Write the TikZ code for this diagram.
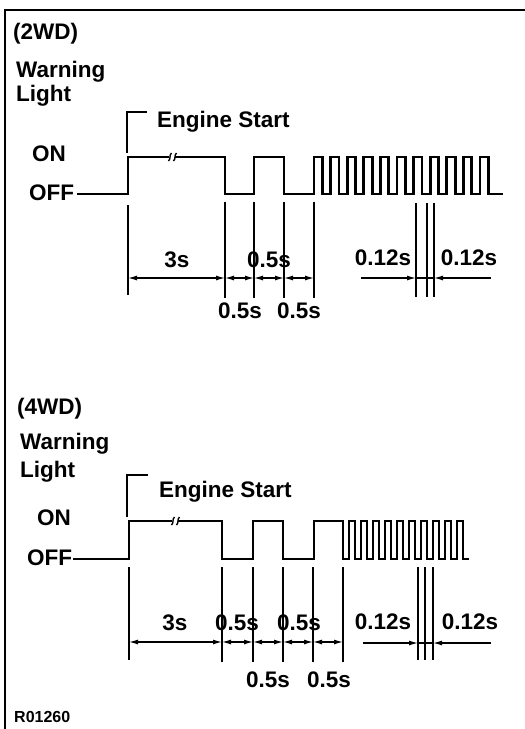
\documentclass[tikz,border=0pt]{standalone}
\usepackage{fontspec}
\setmainfont{Liberation Sans}
\usetikzlibrary{arrows.meta}
\begin{document}
\begin{tikzpicture}[x=1pt,y=-1pt,
  lbl/.style={font=\fontsize{22.5}{25}\selectfont\bfseries, inner sep=0pt, anchor=base west},
  dimlbl/.style={font=\fontsize{22.5}{25}\selectfont\bfseries, inner sep=0pt, anchor=base},
  small/.style={font=\fontsize{16}{18}\selectfont\bfseries, inner sep=0pt, anchor=base west},
  wave/.style={line width=2.8pt, line join=miter},
  brk/.style={line width=1.4pt},
  ext/.style={line width=1.2pt},
  dim/.style={line width=1.2pt, {Latex[length=9pt,width=5pt]}-{Latex[length=9pt,width=5pt]}},
  dimr/.style={line width=1.2pt, -{Latex[length=9pt,width=5pt]}},
  diml/.style={line width=1.2pt, {Latex[length=9pt,width=5pt]}-},
  frame/.style={line width=2.5pt}]
\useasboundingbox (0,0) rectangle (525,729);
% frame
\draw[frame] (525,10) -- (5,10) -- (5,729);

% ================= 2WD =================
\node[lbl] (t2wd) at (13,39) {(2WD)};
\node[lbl] (twarn) at (16,77) {Warning};
\node[lbl] (tlight) at (16,101) {Light};
\node[lbl] (teng) at (157,127) {Engine Start};
\node[lbl] (ton) at (32,161) {ON};
\node[lbl] (toff) at (29,200) {OFF};
% bracket
\draw[ext] (127,153) -- (127,112) -- (147,112);
% waveform
\draw[wave] (toff.base east) ++(3,-6) coordinate (toffend) -- (128,194) -- (128,157) -- (169,157);
\draw[brk] (168.5,161) .. controls (171,159) and (169,155) .. (171.5,153);
\draw[brk] (173.5,161) .. controls (176,159) and (174,155) .. (176.5,153);
\draw[wave] (175,157) -- (225,157) -- (225,194) -- (254,194) -- (254,157) -- (284,157) -- (284,194) -- (314,194)
  \foreach \k in {0,...,10} { -- ++(0,-37) -- ++(8.3,0) -- ++(0,37) -- ++(8.3,0) } -- (503,194);
% extension lines
\draw[ext] (128,205) -- (128,295);
\foreach \x in {225,254,284,314} \draw[ext] (\x,202) -- (\x,298);
\foreach \x in {416,427,434} \draw[ext] (\x,203) -- (\x,297);
% dimension lines
\draw[dim] (128,278) -- (225,278);
\draw[dim] (225,278) -- (254,278);
\draw[dim] (254,278) -- (284,278);
\draw[dim] (284,278) -- (314,278);
\draw[dimr] (361,278) -- (416,278);
\draw[ext] (416,278) -- (434,278);
\draw[diml] (434,278) -- (491,278);
% labels
\node[dimlbl] (t3s) at (177,267) {3s};
\node[dimlbl] (ta1) at (269,267) {0.5s};
\node[dimlbl] (tb1) at (240,318) {0.5s};
\node[dimlbl] (tb2) at (299,318) {0.5s};
\node[dimlbl] (tc1) at (383,265) {0.12s};
\node[dimlbl] (tc2) at (469,265) {0.12s};

% ================= 4WD =================
\node[lbl] (b4wd) at (17,414) {(4WD)};
\node[lbl] (bwarn) at (20,449) {Warning};
\node[lbl] (blight) at (20,477) {Light};
\node[lbl] (beng) at (159,497) {Engine Start};
\node[lbl] (bon) at (37,525) {ON};
\node[lbl] (boff) at (27,565) {OFF};
% bracket
\draw[ext] (127,517) -- (127,475) -- (148,475);
% waveform
\draw[wave] (boff.base east) ++(1,-6) coordinate (boffend) -- (129,559) -- (129,521) -- (172,521);
\draw[brk] (171.5,525) .. controls (174,523) and (172,519) .. (174.5,517);
\draw[brk] (176.5,525) .. controls (179,523) and (177,519) .. (179.5,517);
\draw[wave] (178,521) -- (222,521) -- (222,559) -- (253,559) -- (253,521) -- (283,521) -- (283,559) -- (314,559)
  -- (314,521) -- (343,521) -- (343,559) -- ++(6,0)
  \foreach \k in {0,...,9} { -- ++(0,-38) -- ++(6,0) -- ++(0,38) -- ++(6,0) };
% extension lines
\draw[ext] (129,567) -- (129,660);
\foreach \x in {222,253,283,313,343} \draw[ext] (\x,567) -- (\x,662);
\foreach \x in {418,425,433} \draw[ext] (\x,567) -- (\x,660);
% dimension lines
\draw[dim] (129,642) -- (222,642);
\draw[dim] (222,642) -- (253,642);
\draw[dim] (253,642) -- (283,642);
\draw[dim] (283,642) -- (313,642);
\draw[dim] (313,642) -- (343,642);
\draw[dimr] (363,643) -- (418,643);
\draw[ext] (418,643) -- (433,643);
\draw[diml] (433,643) -- (491,643);
% labels
\node[dimlbl] (b3s) at (175,630) {3s};
\node[dimlbl] (ba1) at (237,630) {0.5s};
\node[dimlbl] (ba2) at (299,630) {0.5s};
\node[dimlbl] (bb1) at (268,687) {0.5s};
\node[dimlbl] (bb2) at (329,687) {0.5s};
\node[dimlbl] (bc1) at (383,629) {0.12s};
\node[dimlbl] (bc2) at (470,629) {0.12s};

\node[small] (code) at (14,722) {R01260};
\end{tikzpicture}
\end{document}
